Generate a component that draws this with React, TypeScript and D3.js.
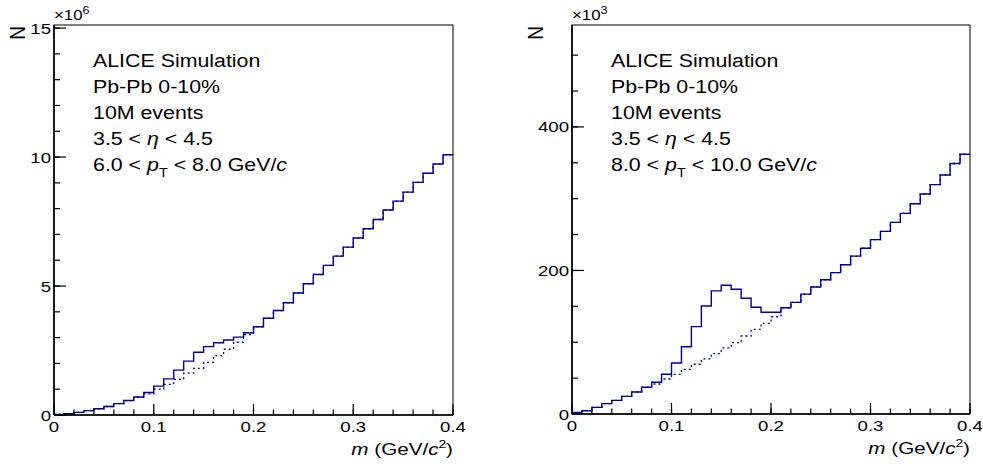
import React from "react";
import * as d3 from "d3";

// ---- data (bin contents, 40 bins of 0.01 GeV/c^2 from 0 to 0.4) ----
const binEdgesLow = d3.range(40).map((i) => i * 0.01);

// left panel, 6.0 < pT < 8.0, units of 1e6
const leftTotal = [
  0.02, 0.05, 0.1, 0.17, 0.24, 0.33, 0.44, 0.56, 0.7, 0.87,
  1.12, 1.4, 1.74, 2.09, 2.43, 2.65, 2.8, 2.91, 3.02, 3.19,
  3.42, 3.75, 4.05, 4.35, 4.73, 5.09, 5.45, 5.8, 6.16, 6.51,
  6.86, 7.22, 7.58, 7.95, 8.29, 8.64, 9.02, 9.37, 9.73, 10.09,
];
const leftBkg = [
  0.02, 0.05, 0.1, 0.17, 0.24, 0.33, 0.44, 0.56, 0.68, 0.82,
  1.0, 1.19, 1.38, 1.62, 1.81, 2.04, 2.3, 2.55, 2.82, 3.12,
  3.42, 3.75, 4.05, 4.35, 4.73, 5.09, 5.45, 5.8, 6.16, 6.51,
  6.86, 7.22, 7.58, 7.95, 8.29, 8.64, 9.02, 9.37, 9.73, 10.09,
];

// right panel, 8.0 < pT < 10.0, units of 1e3
const rightTotal = [
  2, 4.6, 9.3, 14.4, 19, 24.6, 30.7, 37.2, 44.2, 55.3,
  71, 93.8, 121.7, 150.5, 171.6, 179.3, 173.8, 161.2, 148.7, 141.7,
  141.7, 148, 155.5, 167, 177, 187, 197, 208, 220, 231,
  243, 254.5, 267, 279.5, 293, 306.5, 319.6, 333, 349, 362,
];
const rightBkg = [
  2, 4.6, 9.3, 14.4, 19, 24.6, 30.7, 37.2, 41.8, 48.8,
  55.3, 62.3, 69.3, 76.7, 84, 92, 99.4, 108.7, 118, 126.4,
  135.5, 148, 155.5, 167, 177, 187, 197, 208, 220, 231,
  243, 254.5, 267, 279.5, 293, 306.5, 319.6, 333, 349, 362,
];

const xTickValues = [0, 0.1, 0.2, 0.3, 0.4];
const xTickLabels = ["0", "0.1", "0.2", "0.3", "0.4"];
const leftYTicks = [0, 5, 10, 15];
const leftYLabels = ["0", "5", "10", "15"];
const rightYTicks = [0, 200, 400];
const rightYLabels = ["0", "200", "400"];

const legendCommon = ["ALICE Simulation", "Pb-Pb 0-10%", "10M events"];

// ---- style ----
const FONT = "'Liberation Sans', Arial, Helvetica, sans-serif";
const SX = 1.2; // horizontal text stretch of the reference
const LINE = "#00009a";

type PanelProps = {
  x0: number;
  x1: number;
  y0: number;
  y1: number;
  yMax: number;
  yMinorStep: number;
  yMinorMax: number;
  yTicks: number[];
  yLabels: string[];
  exponent: string;
  total: number[];
  bkg: number[];
  ptLow: string;
  ptHigh: string;
};

function T({
  x,
  y,
  anchor = "start",
  size,
  rotate = 0,
  children,
}: {
  x: number;
  y: number;
  anchor?: string;
  size: number;
  rotate?: number;
  children: React.ReactNode;
}) {
  return (
    <text
      transform={`translate(${x},${y}) scale(${SX},1)${rotate ? ` rotate(${rotate})` : ""}`}
      textAnchor={anchor}
      fontSize={size}
      fontFamily={FONT}
      fill="#000"
    >
      {children}
    </text>
  );
}

function Panel(p: PanelProps) {
  const x = d3.scaleLinear().domain([0, 0.4]).range([p.x0, p.x1]);
  const y = d3.scaleLinear().domain([0, p.yMax]).range([p.y1, p.y0]);

  const stepLine = (vals: number[]) => {
    const pts: [number, number][] = binEdgesLow.map((e, i) => [e, vals[i]]);
    pts.push([0.4, vals[vals.length - 1]]);
    return d3
      .line<[number, number]>()
      .x((d) => x(d[0]))
      .y((d) => y(d[1]))
      .curve(d3.curveStepAfter)(pts) as string;
  };

  const xMinor = d3.range(0, 0.4001, 0.02);
  const yMinor = d3.range(0, p.yMinorMax + 0.001, p.yMinorStep);
  const tickLab = 15.5;
  const legSize = 17.8;
  const legX = p.x0 + 39;
  const legY = [67, 93, 119, 145, 171];

  return (
    <g>
      {/* frame */}
      <rect
        x={p.x0}
        y={p.y0}
        width={p.x1 - p.x0}
        height={p.y1 - p.y0}
        fill="none"
        stroke="#000"
        strokeWidth={1}
      />
      {/* histograms */}
      <path d={stepLine(p.bkg)} fill="none" stroke={LINE} strokeWidth={1.3} strokeDasharray="2,3" />
      <path d={stepLine(p.total)} fill="none" stroke={LINE} strokeWidth={1.4} />
      {/* axes lines */}
      <line x1={p.x0} x2={p.x0} y1={p.y0} y2={p.y1} stroke="#000" strokeWidth={1.6} />
      <line x1={p.x0} x2={p.x1} y1={p.y1} y2={p.y1} stroke="#000" strokeWidth={1.6} />
      {/* x ticks */}
      {xMinor.map((v, i) => (
        <line key={"xm" + i} x1={x(v)} x2={x(v)} y1={p.y1} y2={p.y1 - 5.5} stroke="#000" strokeWidth={1.2} />
      ))}
      {xTickValues.map((v, i) => (
        <g key={"xM" + i}>
          <line x1={x(v)} x2={x(v)} y1={p.y1} y2={p.y1 - 11} stroke="#000" strokeWidth={1.2} />
          <T x={x(v)} y={p.y1 + 17} anchor="middle" size={tickLab}>
            {xTickLabels[i]}
          </T>
        </g>
      ))}
      {/* y ticks */}
      {yMinor.map((v, i) => (
        <line key={"ym" + i} x1={p.x0} x2={p.x0 + 6} y1={y(v)} y2={y(v)} stroke="#000" strokeWidth={1.2} />
      ))}
      {p.yTicks.map((v, i) => (
        <g key={"yM" + i}>
          <line x1={p.x0} x2={p.x0 + 12} y1={y(v)} y2={y(v)} stroke="#000" strokeWidth={1.2} />
          <T x={p.x0 - 3} y={y(v) + 5.5} anchor="end" size={tickLab}>
            {p.yLabels[i]}
          </T>
        </g>
      ))}
      {/* exponent */}
      <T x={p.x0} y={20} size={14}>
        ×10
        <tspan dy={-6} fontSize={10.5}>
          {p.exponent}
        </tspan>
      </T>
      {/* y title */}
      <T x={p.x0 - 29} y={26} anchor="end" size={19} rotate={-90}>
        N
      </T>
      {/* x title */}
      <T x={p.x1} y={p.y1 + 40} anchor="end" size={17.2}>
        <tspan fontStyle="italic">m</tspan> (GeV/<tspan fontStyle="italic">c</tspan>
        <tspan dy={-7} fontSize={11.5}>2</tspan>
        <tspan dy={7}>)</tspan>
      </T>
      {/* legend */}
      {legendCommon.map((s, i) => (
        <T key={"lg" + i} x={legX} y={legY[i]} size={legSize}>
          {s}
        </T>
      ))}
      <T x={legX} y={legY[3]} size={legSize}>
        3.5 &lt; <tspan fontStyle="italic">η</tspan> &lt; 4.5
      </T>
      <T x={legX} y={legY[4]} size={legSize}>
        {p.ptLow} &lt; <tspan fontStyle="italic">p</tspan>
        <tspan dy={6} fontSize={12}>T</tspan>
        <tspan dy={-6}> &lt; {p.ptHigh} GeV/</tspan>
        <tspan fontStyle="italic">c</tspan>
      </T>
    </g>
  );
}

export default function App() {
  return (
    <div style={{ position: "absolute", left: 0, top: 0 }}>
      <svg width={983} height={464} style={{ display: "block", background: "#fff" }}>
        <Panel
          x0={54}
          x1={453}
          y0={25}
          y1={415}
          yMax={15.12}
          yMinorStep={1}
          yMinorMax={15}
          yTicks={leftYTicks}
          yLabels={leftYLabels}
          exponent="6"
          total={leftTotal}
          bkg={leftBkg}
          ptLow="6.0"
          ptHigh="8.0"
        />
        <Panel
          x0={572}
          x1={970}
          y0={25}
          y1={414}
          yMax={542}
          yMinorStep={50}
          yMinorMax={500}
          yTicks={rightYTicks}
          yLabels={rightYLabels}
          exponent="3"
          total={rightTotal}
          bkg={rightBkg}
          ptLow="8.0"
          ptHigh="10.0"
        />
      </svg>
    </div>
  );
}
